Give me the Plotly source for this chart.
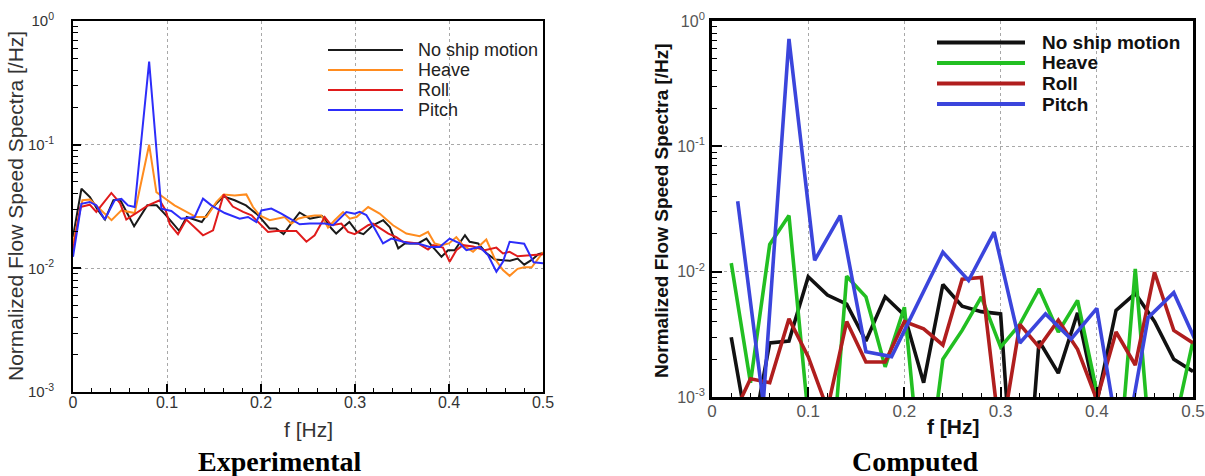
import plotly.graph_objects as go

W, H = 1205, 476

series_names = ["No ship motion", "Heave", "Roll", "Pitch"]

# ---------------- Experimental (left) ----------------
exp_black_f = [0.0, 0.009, 0.018, 0.026, 0.034, 0.043, 0.05, 0.065, 0.079, 0.089, 0.099, 0.113, 0.121,
               0.137, 0.147, 0.160, 0.172, 0.184, 0.197, 0.209, 0.216, 0.224, 0.232, 0.241, 0.252, 0.265,
               0.275, 0.280, 0.287, 0.294, 0.302, 0.309, 0.319, 0.330, 0.337, 0.346, 0.353, 0.367, 0.376,
               0.381, 0.392, 0.399, 0.406, 0.417, 0.422, 0.431, 0.440, 0.449, 0.458, 0.465, 0.473, 0.480,
               0.488, 0.495, 0.5]
exp_black_v = [0.018, 0.044, 0.0377, 0.030, 0.0248, 0.0355, 0.036, 0.0219, 0.0323, 0.0323, 0.0268, 0.0201, 0.026,
               0.0237, 0.0303, 0.0382, 0.0355, 0.0323, 0.0269, 0.021, 0.021, 0.0189, 0.023, 0.0283, 0.0252, 0.0264,
               0.021, 0.0191, 0.0214, 0.0237, 0.0197, 0.0189, 0.0223, 0.0245, 0.0216, 0.0145, 0.0159, 0.0159, 0.0174,
               0.0154, 0.0124, 0.014, 0.014, 0.0185, 0.0164, 0.0159, 0.0132, 0.0118, 0.0116, 0.0115, 0.012, 0.0107,
               0.0117, 0.013, 0.0133]

exp_heave_f = [0.0, 0.01, 0.018, 0.030, 0.041, 0.0515, 0.0656, 0.081, 0.0887, 0.0957, 0.108, 0.131, 0.142,
               0.1525, 0.1603, 0.172, 0.1844, 0.1915, 0.1986, 0.2093, 0.2252, 0.2323, 0.2394, 0.2465, 0.2571,
               0.2642, 0.2713, 0.2784, 0.2873, 0.2944, 0.3016, 0.3087, 0.314, 0.3262, 0.3404, 0.3546, 0.3688,
               0.3777, 0.3848, 0.3918, 0.4, 0.4078, 0.4149, 0.4256, 0.4397, 0.4486, 0.4574, 0.4645, 0.473,
               0.48, 0.488, 0.5]
exp_heave_v = [0.016, 0.0355, 0.036, 0.0294, 0.0245, 0.0294, 0.028, 0.10, 0.0413, 0.0377, 0.0323, 0.026, 0.026,
               0.0343, 0.0396, 0.0389, 0.0396, 0.0313, 0.0268, 0.0245, 0.026, 0.023, 0.0252, 0.026, 0.0268,
               0.0268, 0.0214, 0.0245, 0.0285, 0.0252, 0.026, 0.029, 0.0313, 0.0277, 0.0223, 0.0191, 0.0182,
               0.0197, 0.0159, 0.0154, 0.0159, 0.0179, 0.0154, 0.0136, 0.0171, 0.012, 0.0097, 0.0087, 0.0099,
               0.0102, 0.0102, 0.0135]

exp_roll_f = [0.0, 0.0078, 0.0178, 0.0248, 0.0408, 0.05, 0.0567, 0.0656, 0.0798, 0.0922, 0.0986, 0.103,
              0.1117, 0.1206, 0.1383, 0.149, 0.1603, 0.17, 0.181, 0.19, 0.1986, 0.2075, 0.2163, 0.227, 0.2376,
              0.2483, 0.2571, 0.2678, 0.2749, 0.2855, 0.2926, 0.2997, 0.3087, 0.314, 0.3191, 0.3355, 0.344,
              0.3511, 0.367, 0.3777, 0.383, 0.3936, 0.4007, 0.4078, 0.4149, 0.4256, 0.438, 0.4504, 0.4574,
              0.4645, 0.473, 0.488, 0.5]
exp_roll_v = [0.014, 0.0313, 0.0327, 0.0286, 0.0407, 0.0337, 0.0248, 0.0274, 0.0323, 0.0355, 0.0294, 0.0227,
              0.0189, 0.0248, 0.0185, 0.0203, 0.0396, 0.0316, 0.0286, 0.0268, 0.023, 0.0197, 0.02, 0.02, 0.02,
              0.0164, 0.0185, 0.026, 0.0223, 0.023, 0.0197, 0.0189, 0.021, 0.0223, 0.023, 0.0191, 0.0179,
              0.0164, 0.0159, 0.0142, 0.0154, 0.0147, 0.0113, 0.014, 0.0154, 0.015, 0.014, 0.0147, 0.0132,
              0.0136, 0.0125, 0.0128, 0.013]

exp_pitch_f = [0.0, 0.0089, 0.0178, 0.0248, 0.0337, 0.0443, 0.0515, 0.0585, 0.0656, 0.081, 0.094, 0.1046,
               0.1152, 0.1294, 0.1383, 0.1472, 0.1614, 0.172, 0.1773, 0.1862, 0.195, 0.2004, 0.211, 0.2216,
               0.2305, 0.2412, 0.2519, 0.259, 0.2678, 0.2767, 0.2908, 0.2997, 0.305, 0.312, 0.3209, 0.3298,
               0.3387, 0.3582, 0.367, 0.3795, 0.39, 0.4007, 0.4114, 0.4185, 0.4326, 0.4415, 0.4504, 0.4574,
               0.4645, 0.48, 0.49, 0.5]
exp_pitch_v = [0.0124, 0.0333, 0.0344, 0.0323, 0.0248, 0.0355, 0.0364, 0.0323, 0.0313, 0.47, 0.0303, 0.0291,
               0.0252, 0.026, 0.0366, 0.0323, 0.028, 0.026, 0.0252, 0.026, 0.0237, 0.0294, 0.0304, 0.0277,
               0.0252, 0.0227, 0.023, 0.023, 0.023, 0.0223, 0.0285, 0.0277, 0.0286, 0.027, 0.021, 0.0159,
               0.0174, 0.0159, 0.0159, 0.0149, 0.0149, 0.0174, 0.0159, 0.014, 0.0149, 0.0128, 0.0094, 0.0113,
               0.0164, 0.0158, 0.0112, 0.011]

# ---------------- Computed (right) ----------------
comp_f = [0.02, 0.04, 0.06, 0.08, 0.10, 0.12, 0.14, 0.16, 0.18, 0.20, 0.22, 0.24, 0.26,
          0.28, 0.30, 0.32, 0.34, 0.36, 0.38, 0.40, 0.42, 0.44, 0.46, 0.48, 0.50]
comp_black_v = [0.0030, 0.0004, 0.0027, 0.0028, 0.0091, 0.0065, 0.0055, 0.0028, 0.0063, 0.0045, 0.0013,
                0.0079, 0.0053, 0.0048, 0.0046, 0.00003, 0.0028, 0.00155, 0.0047, 0.0009, 0.0049, 0.0067,
                0.0040, 0.0020, 0.0016]
comp_heave_v = [0.0117, 0.0013, 0.0165, 0.028, 0.0007, 0.0001, 0.0092, 0.0063, 0.00174, 0.0052, 0.00013,
                0.002, 0.0034, 0.0063, 0.0025, 0.0038, 0.0073, 0.0033, 0.0059, 0.0011, 0.00015, 0.0105,
                0.00015, 0.00055, 0.0028]
comp_roll_v = [0.00066, 0.0014, 0.0013, 0.0042, 0.0021, 0.0008, 0.004, 0.0019, 0.0019, 0.004, 0.0035,
               0.0026, 0.0087, 0.009, 0.00044, 0.0038, 0.0025, 0.0041, 0.0024, 0.00095, 0.0033, 0.0018,
               0.0099, 0.0034, 0.0027]
comp_pitch_f = [0.0267, 0.0533, 0.08, 0.1067, 0.1333, 0.16, 0.1867, 0.2133, 0.24, 0.2667, 0.2933, 0.32,
                0.3467, 0.3733, 0.40, 0.4267, 0.4533, 0.48, 0.5067]
comp_pitch_v = [0.0365, 0.0009, 0.72, 0.0123, 0.028, 0.0023, 0.0021, 0.0055, 0.0143, 0.0085, 0.0207, 0.0027,
                0.0046, 0.0029, 0.0051, 0.0003, 0.0043, 0.0068, 0.0024]

x_ticks = [0, 0.1, 0.2, 0.3, 0.4, 0.5]
x_tick_labels = ["0", "0.1", "0.2", "0.3", "0.4", "0.5"]
y_ticks = [0.001, 0.01, 0.1, 1]
y_tick_labels = ["10<sup>-3</sup>", "10<sup>-2</sup>", "10<sup>-1</sup>", "10<sup>0</sup>"]
y_minor = [m * 10.0 ** e for e in (-3, -2, -1) for m in range(2, 10)]

exp_colors = ["#1a1a1a", "#ff8c1f", "#e01b1b", "#2d2dfa"]
comp_colors = ["#111111", "#22bf22", "#b01e1e", "#3b45dc"]

exp_data = [(exp_black_f, exp_black_v), (exp_heave_f, exp_heave_v),
            (exp_roll_f, exp_roll_v), (exp_pitch_f, exp_pitch_v)]
comp_data = [(comp_f, comp_black_v), (comp_f, comp_heave_v),
             (comp_f, comp_roll_v), (comp_pitch_f, comp_pitch_v)]

fig = go.Figure()
for name, col, (f, v) in zip(series_names, exp_colors, exp_data):
    fig.add_trace(go.Scatter(x=f, y=v, mode="lines", name=name, showlegend=False,
                             line=dict(color=col, width=2), xaxis="x", yaxis="y"))
for name, col, (f, v) in zip(series_names, comp_colors, comp_data):
    fig.add_trace(go.Scatter(x=f, y=v, mode="lines", name=name, showlegend=False,
                             line=dict(color=col, width=3.6), xaxis="x2", yaxis="y2"))

SANS = "Liberation Sans, Arial, sans-serif"
SERIF = "Liberation Serif, Times New Roman, serif"


def xax(domain, lw, tl, tcol, tsize, standoff):
    return dict(domain=domain, range=[0, 0.5], showline=True, mirror=True, linecolor="black",
                linewidth=lw, ticks="inside", ticklen=tl, tickwidth=2, tickcolor="black",
                tickmode="array", tickvals=x_ticks, ticktext=x_tick_labels,
                tickfont=dict(family=SANS, size=tsize, color=tcol), ticklabelstandoff=standoff,
                showgrid=True, gridcolor="#a8a8a8", griddash="dot", gridwidth=1,
                minor=dict(tickmode="linear", tick0=0, dtick=0.02, ticks="inside", ticklen=4,
                           tickwidth=1, tickcolor="black", showgrid=False),
                zeroline=False, automargin=False, fixedrange=True)


def yax(domain, anchor, lw, tl, tcol, tsize, standoff):
    return dict(domain=domain, anchor=anchor, type="log", range=[-3, 0], showline=True, mirror=True,
                linecolor="black", linewidth=lw, ticks="inside", ticklen=tl, tickwidth=2,
                tickcolor="black", tickmode="array", tickvals=y_ticks, ticktext=y_tick_labels,
                tickfont=dict(family=SANS, size=tsize, color=tcol), ticklabelstandoff=standoff,
                showgrid=True, gridcolor="#a8a8a8", griddash="dot", gridwidth=1,
                minor=dict(tickmode="array", tickvals=y_minor, ticks="inside", ticklen=5,
                           tickwidth=1, tickcolor="black", showgrid=False),
                zeroline=False, automargin=False, fixedrange=True)


L = dict(x0=73, x1=543, y0=21, y1=392)
R = dict(x0=712, x1=1193, y0=21, y1=397)

fig.update_layout(
    width=W, height=H, autosize=False,
    margin=dict(l=0, r=0, t=0, b=0, pad=0),
    paper_bgcolor="white", plot_bgcolor="white",
    xaxis=dict(xax([L["x0"] / W, L["x1"] / W], 2, 8, "#333333", 16, -5), anchor="y"),
    yaxis=yax([1 - L["y1"] / H, 1 - L["y0"] / H], "x", 2, 8, "#333333", 15, 14),
    xaxis2=dict(xax([R["x0"] / W, R["x1"] / W], 2.8, 10, "#555555", 17, -3), anchor="y2"),
    yaxis2=yax([1 - R["y1"] / H, 1 - R["y0"] / H], "x2", 2.8, 10, "#555555", 16, 1),
)

shapes = []
annotations = []

# manual legends
leg_specs = [
    dict(colors=exp_colors, lx0=328, lx1=403, tx=416, ys=[50, 70, 90, 110], width=2.2,
         font=dict(family=SANS, size=18, color="#222222"), bold=False),
    dict(colors=comp_colors, lx0=937, lx1=1025, tx=1040, ys=[42.5, 63, 83.5, 104], width=4,
         font=dict(family=SANS, size=19, color="#111111"), bold=True),
]
for spec in leg_specs:
    for name, col, yy in zip(series_names, spec["colors"], spec["ys"]):
        shapes.append(dict(type="line", xref="paper", yref="paper",
                           x0=spec["lx0"] / W, x1=spec["lx1"] / W, y0=1 - yy / H, y1=1 - yy / H,
                           line=dict(color=col, width=spec["width"])))
        txt = f"<b>{name}</b>" if spec["bold"] else name
        annotations.append(dict(text=txt, xref="paper", yref="paper", x=spec["tx"] / W, y=1 - yy / H,
                                xanchor="left", yanchor="middle", showarrow=False, font=spec["font"]))

# axis titles and captions
annotations += [
    dict(text="Normalized Flow Speed Spectra [/Hz]", xref="paper", yref="paper", x=15 / W, y=1 - 206 / H,
         textangle=-90, showarrow=False, xanchor="center", yanchor="middle",
         font=dict(family=SANS, size=21, color="#333333")),
    dict(text="f [Hz]", xref="paper", yref="paper", x=308 / W, y=1 - 429 / H, showarrow=False,
         xanchor="center", yanchor="middle", font=dict(family=SANS, size=21, color="#333333")),
    dict(text="<b>Normalized Flow Speed Spectra [/Hz]</b>", xref="paper", yref="paper", x=661 / W,
         y=1 - 211 / H, textangle=-90, showarrow=False, xanchor="center", yanchor="middle",
         font=dict(family=SANS, size=19, color="#111111")),
    dict(text="<b>f [Hz]</b>", xref="paper", yref="paper", x=953 / W, y=1 - 426 / H, showarrow=False,
         xanchor="center", yanchor="middle", font=dict(family=SANS, size=21, color="#111111")),
    dict(text="<b>Experimental</b>", xref="paper", yref="paper", x=280 / W, y=1 - 461 / H, showarrow=False,
         xanchor="center", yanchor="middle", font=dict(family=SERIF, size=28, color="black")),
    dict(text="<b>Computed</b>", xref="paper", yref="paper", x=915 / W, y=1 - 461 / H, showarrow=False,
         xanchor="center", yanchor="middle", font=dict(family=SERIF, size=28, color="black")),
]

fig.update_layout(shapes=shapes, annotations=annotations)
fig.write_html("out.html")
